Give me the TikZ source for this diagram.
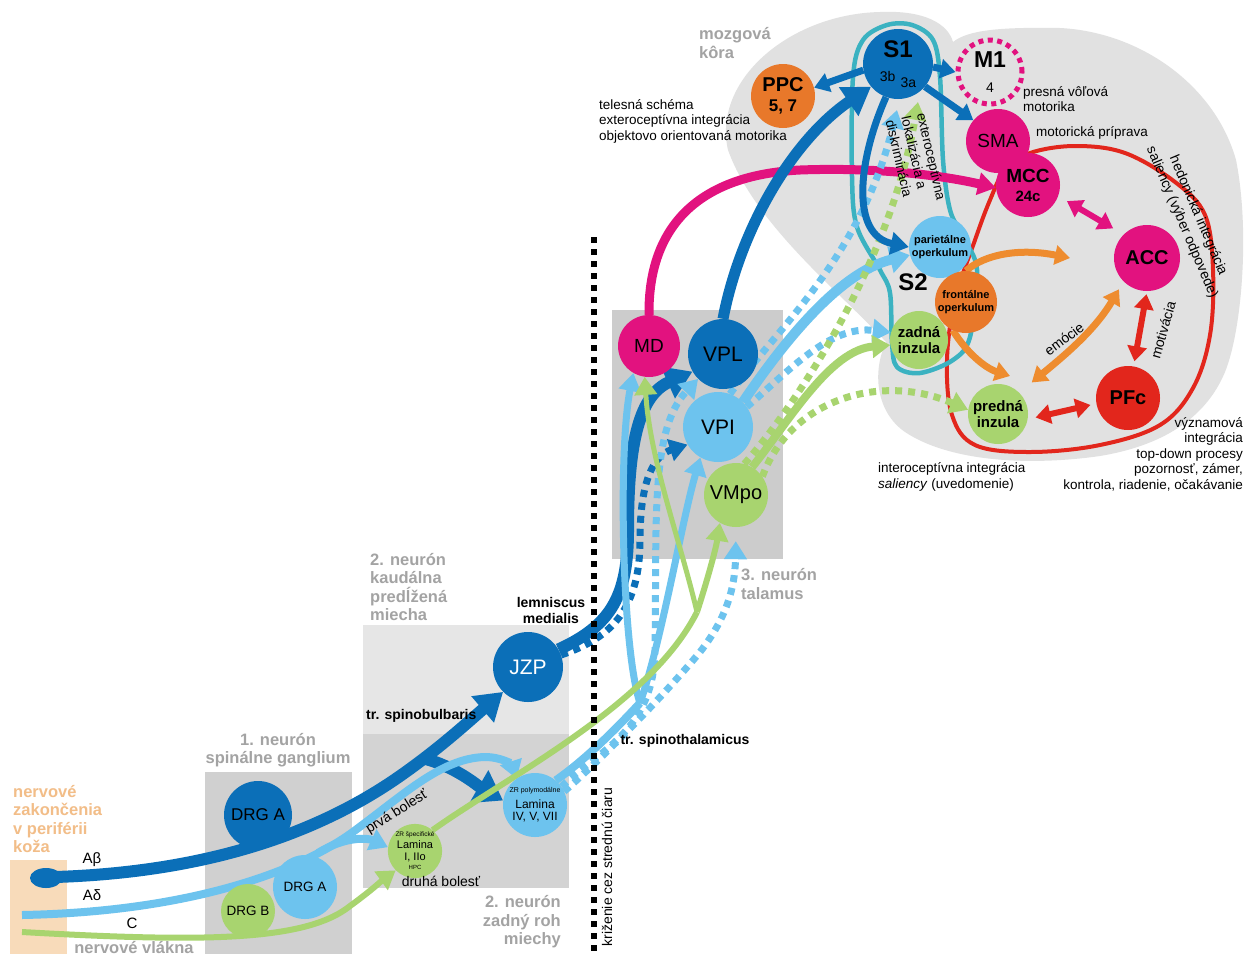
\documentclass[tikz,border=0pt]{standalone}
\usepackage{fontspec}
\setmainfont{Liberation Sans}
\usetikzlibrary{arrows.meta}

\definecolor{dkblue}{HTML}{0B6FB8}
\definecolor{ltblue}{HTML}{6DC3EE}
\definecolor{ltgreen}{HTML}{A8D46F}
\definecolor{magen}{HTML}{E2127F}
\definecolor{orng}{HTML}{E8782A}
\definecolor{orng2}{HTML}{EE8C2F}
\definecolor{redc}{HTML}{E2261C}
\definecolor{tealc}{HTML}{3BB2C1}
\definecolor{braing}{HTML}{E1E1E1}
\definecolor{thalg}{HTML}{CCCCCC}
\definecolor{medlg}{HTML}{E6E6E6}
\definecolor{horng}{HTML}{D3D3D3}
\definecolor{gangg}{HTML}{D0D0D0}
\definecolor{skin}{HTML}{F8DBBA}
\definecolor{skintxt}{HTML}{F2BD88}
\definecolor{gtxt}{HTML}{A3A3A3}

\pgfdeclarelayer{bg}
\pgfdeclarelayer{fibres}
\pgfsetlayers{bg,fibres,main}

\newcommand{\fsz}[2]{\fontsize{#1}{#2}\selectfont}

\tikzset{
  nrn/.style={circle, inner sep=0pt, minimum size=#1pt, align=center},
  desc/.style={inner sep=0pt, font=\fsz{13.5}{15.5}},
  gtitle/.style={inner sep=0pt, text=gtxt, font=\fsz{16.5}{18.5}\bfseries},
  tract/.style={inner sep=0pt, font=\fsz{14}{16}\bfseries},
  sqdots/.style={line width=7pt, dash pattern=on 7pt off 6pt},
  bigtip/.style={-{Triangle[length=27pt,width=33pt]}},
  midtip/.style={-{Triangle[length=18pt,width=22pt]}},
  smltip/.style={-{Triangle[length=15pt,width=19pt]}},
  dbltip/.style={{Triangle[length=15pt,width=19pt]}-{Triangle[length=15pt,width=19pt]}},
}

\begin{document}
\begin{tikzpicture}[x=1pt,y=-1pt]
\useasboundingbox (0,0) rectangle (1244,954);

% boxes, cortex and outlines
\begin{pgfonlayer}{bg}
\fill[white] (0,0) rectangle (1244,954);
\fill[skin] (10,860) rectangle (67,954);
\fill[gangg] (205,772) rectangle (352,954);
\fill[medlg] (363,625) rectangle (569,734);
\fill[horng] (363,734) rectangle (569,888);
\fill[thalg] (612,310) rectangle (783,559);
\fill[braing] (728,150) .. controls (712,80) and (790,14) .. (880,12)
  .. controls (925,10) and (948,24) .. (953,42)
  .. controls (968,30) and (1000,27) .. (1060,28)
  .. controls (1140,32) and (1215,85) .. (1236,160)
  .. controls (1250,230) and (1242,330) .. (1225,372)
  .. controls (1205,420) and (1160,446) .. (1100,456)
  .. controls (1030,466) and (950,462) .. (905,432)
  .. controls (876,412) and (872,372) .. (886,342)
  .. controls (840,292) and (755,225) .. (728,150) -- cycle;
\draw[redc, line width=4pt] plot[smooth cycle, tension=0.6] coordinates {(1005,170) (1030,153) (1075,146) (1125,153) (1175,182) (1205,215) (1213,270) (1210,335) (1193,388) (1160,425) (1100,445) (1030,452) (975,445) (952,415) (947,360) (955,300) (975,240) (990,200)};
\draw[tealc, line width=4.5pt] plot[smooth cycle, tension=0.55] coordinates {(887,25) (863,40) (853,77) (852,177) (857,227) (880,270) (890,293) (892,343) (897,367) (920,373) (953,360) (970,337) (977,270) (963,237) (950,210) (943,160) (940,77) (933,40) (912,25)};
\end{pgfonlayer}

% cortex
\node[nrn=70, fill=dkblue, font=\fsz{14}{16}] (S1) at (898,64) {{\fsz{24}{24}\bfseries S1}\\[8pt]3b\hspace{5pt}\raisebox{-6pt}{3a}};
\node[nrn=64, draw=magen, line width=5pt, dash pattern=on 5pt off 4.5pt, font=\fsz{14}{16}] (M1) at (990,72) {{\fsz{23}{23}\bfseries M1}\\[9pt]4};
\node[nrn=64, fill=orng, font=\fsz{17}{16}\bfseries] (PPC) at (783,96) {{\fsz{20}{20}PPC}\\[4pt]5, 7};
\node[nrn=64, fill=magen, font=\fsz{19}{20}] (SMA) at (998,141) {SMA};
\node[nrn=64, fill=magen, font=\fsz{15}{16}\bfseries] (MCC) at (1028,185) {{\fsz{19}{19}MCC}\\[3pt]24c};
\node[nrn=66, fill=magen, font=\fsz{20}{20}\bfseries] (ACC) at (1147,258) {ACC};
\node[nrn=64, fill=redc, font=\fsz{20}{20}\bfseries] (PFc) at (1128,398) {PFc};
\node[nrn=60, fill=ltgreen, font=\fsz{15}{16}\bfseries] (PredIns) at (998,414) {predná\\inzula};
\node[nrn=58, fill=ltgreen, font=\fsz{15}{16}\bfseries] (ZadIns) at (919,340) {zadná\\inzula};
\node[nrn=62, fill=ltblue, font=\fsz{11}{13}\bfseries] (Par) at (940,247) {parietálne\\operkulum};
\node[nrn=62, fill=orng, font=\fsz{11}{13}\bfseries] (FrOp) at (966,302) {frontálne\\operkulum};

% thalamus, medulla, cord
\node[nrn=62, fill=magen, font=\fsz{19}{20}] (MD) at (649,346) {MD};
\node[nrn=70, fill=dkblue, font=\fsz{21}{22}] (VPL) at (723,354) {VPL};
\node[nrn=70, fill=ltblue, font=\fsz{21}{22}] (VPI) at (718,427) {VPI};
\node[nrn=64, fill=ltgreen, font=\fsz{20}{22}] (VMpo) at (736,495) {VMpo};
\node[nrn=70, fill=dkblue, text=white, font=\fsz{21}{22}] (JZP) at (528,667) {JZP};
\node[nrn=68, fill=dkblue, font=\fsz{17}{18}] (DRGAd) at (258,815) {DRG A};
\node[nrn=64, fill=ltblue, font=\fsz{13.5}{15}] (DRGAl) at (305,887) {DRG A};
\node[nrn=54, fill=ltgreen, font=\fsz{13.5}{15}] (DRGB) at (248,911) {DRG B};
\node[nrn=54, fill=ltgreen, font=\fsz{11}{12}] (LamI) at (415,851) {{\fsz{6.5}{7}ZR špecifické}\\Lamina\\I, IIo\\[-3pt]{\fsz{6}{7}HPC}};
\node[nrn=64, fill=ltblue, font=\fsz{12}{13}] (LamIV) at (535,805) {{\fsz{7}{8}ZR polymodálne}\\[3pt]Lamina\\[-1pt]IV, V, VII};

\begin{pgfonlayer}{fibres}
% periphery to cord and medulla
\coordinate (ab0) at (55,877);
\coordinate (ad0) at (22,915);
\coordinate (c0) at (22,932);
\coordinate (absplit) at (422,758);
\coordinate (adsplit) at (318,853);
\fill[dkblue] (46,878) ellipse [x radius=16pt, y radius=10pt];
\draw[dkblue, line width=12pt, bigtip] (ab0) .. controls (210,872) and (320,832) .. (400,776) .. controls (440,748) and (468,722) .. (JZP.225);
\draw[dkblue, line width=12pt, -{Triangle[length=28pt,width=36pt]}] (absplit) .. controls (455,766) and (478,786) .. (LamIV.172);
\draw[ltblue, line width=8pt, midtip] (ad0) .. controls (180,912) and (290,876) .. (350,834) .. controls (400,798) and (440,758) .. (485,757) .. controls (502,757) and (512,765) .. (LamIV.125);
\draw[ltblue, line width=8pt, midtip] (adsplit) .. controls (345,836) and (368,838) .. (LamI.172);
\draw[ltgreen, line width=6pt, midtip] (c0) .. controls (200,942) and (305,942) .. (350,906) .. controls (372,890) and (385,878) .. (LamI.225);

% to thalamus
\coordinate (stt) at (640,703);
\coordinate (gj) at (697,612);
\draw[dkblue, line width=12pt, bigtip] (JZP.30) .. controls (612,625) and (628,595) .. (628,530) .. controls (628,440) and (640,395) .. (VPL.210);
\draw[dkblue, sqdots, midtip] (JZP.20) .. controls (605,640) and (640,615) .. (640,540) .. controls (640,478) and (655,455) .. (VPI.210);
\draw[ltblue, line width=8pt] (LamIV.50) .. controls (585,760) and (615,730) .. (stt);
\draw[ltblue, line width=7pt, midtip] (stt) .. controls (622,650) and (618,450) .. (MD.240);
\draw[ltblue, line width=7pt, midtip] (stt) .. controls (662,640) and (682,520) .. (VPI.240);
\draw[ltblue, sqdots, midtip] (LamIV.35) .. controls (600,750) and (654,730) .. (655,650) .. controls (657,520) and (650,430) .. (VPL.225);
\draw[ltblue, sqdots, midtip, shorten >=14pt] (LamIV.25) .. controls (600,760) and (660,700) .. (700,652) .. controls (725,620) and (735,590) .. (VMpo.south);
\draw[ltgreen, line width=6pt] (LamI.50) .. controls (510,775) and (650,705) .. (gj);
\draw[ltgreen, line width=6pt, midtip] (gj) .. controls (708,578) and (716,548) .. (VMpo.240);
\draw[ltgreen, line width=5pt, midtip] (gj) .. controls (680,540) and (650,460) .. (MD.262);

% thalamus to cortex
\coordinate (extb) at (897,110);
\coordinate (extg) at (918,102);
\draw[magen, line width=9pt, midtip] (MD.north) .. controls (648,225) and (700,175) .. (800,170) .. controls (880,167) and (945,176) .. (MCC.185);
\draw[dkblue, line width=11pt, bigtip] (VPL.north) .. controls (740,230) and (792,140) .. (S1.220);
\draw[ltblue, line width=10pt, -{Triangle[length=20pt,width=26pt]}] (VPI.north east) .. controls (785,340) and (840,272) .. (Par.195);
\draw[ltblue, sqdots, midtip] (VPI.70) .. controls (775,330) and (860,260) .. (extb);
\draw[ltblue, sqdots, midtip] (VPI.35) .. controls (790,370) and (830,325) .. (ZadIns.165);
\draw[ltgreen, line width=8pt, midtip] (VMpo.60) .. controls (790,420) and (830,350) .. (ZadIns.190);
\draw[ltgreen, sqdots, midtip] (VMpo.75) .. controls (800,400) and (890,262) .. (extg);
\draw[ltgreen, sqdots, midtip] (VMpo.35) .. controls (790,400) and (880,372) .. (PredIns.172);

% within cortex
\coordinate (orTipA) at (1070,258);
\coordinate (orTipB) at (1010,376);
\draw[dkblue, line width=7pt, smltip] (S1.190) -- (PPC.15);
\draw[dkblue, line width=7pt, smltip] (S1.-5) -- (M1.west);
\draw[dkblue, line width=7pt, smltip] (S1.-40) -- (SMA.140);
\draw[dkblue, line width=7pt, midtip] (S1.250) .. controls (858,160) and (850,235) .. (Par.west);
\draw[orng2, line width=7pt, smltip] (FrOp.north) .. controls (985,254) and (1020,248) .. (orTipA);
\draw[orng2, line width=7pt, smltip] (FrOp.245) .. controls (966,352) and (985,368) .. (orTipB);
\draw[orng2, line width=7pt, dbltip, shorten <=16pt, shorten >=9pt] (PredIns.north east) .. controls (1065,355) and (1095,330) .. (ACC.south west);
\draw[magen, line width=6pt, dbltip, shorten <=10pt, shorten >=12pt] (MCC.-20) -- (ACC.135);
\draw[redc, line width=6pt, dbltip, shorten <=3pt, shorten >=5pt] (ACC.south) -- (PFc.80);
\draw[redc, line width=6pt, dbltip, shorten <=8pt, shorten >=6pt] (PredIns.-10) -- (PFc.190);
\end{pgfonlayer}

% midline
\draw[line width=6pt, dash pattern=on 6pt off 6pt] (594,237) -- (594,954);

% labels
\node[gtitle, align=left, anchor=west] (tCortex) at (699,43) {mozgová\\kôra};
\node[desc, align=left, anchor=west] (tPPC) at (599,121) {telesná schéma\\exteroceptívna integrácia\\objektovo orientovaná motorika};
\node[desc, align=left, anchor=west] (tM1) at (1023,99) {presná vôľová\\motorika};
\node[desc, anchor=west] (tSMA) at (1036,133) {motorická príprava};
\node[desc, align=left, anchor=west] (tIns) at (878,477) {interoceptívna integrácia\\\textit{saliency} (uvedomenie)};
\node[desc, align=right, anchor=east] (tPFc) at (1243,454) {významová\\integrácia\\top-down procesy\\pozornosť, zámer,\\kontrola, riadenie, očakávanie};
\node[desc, align=center, rotate=-67, font=\fsz{14}{17.5}] (tHed) at (1190,219) {hedonická integrácia\\saliency (výber odpovede)};
\node[desc, align=left, rotate=-77, font=\fsz{13.5}{16}] (tExt) at (916,160) {exteroceptívna\\lokalizácia a\\diskriminácia};
\node[desc, rotate=37, font=\fsz{14}{16}] (tEmo) at (1064,339) {emócie};
\node[desc, rotate=74, font=\fsz{14}{16}] (tMot) at (1163,330) {motivácia};
\node[inner sep=0pt, font=\fsz{24}{24}\bfseries] (tS2) at (913,282) {S2};
\node[gtitle, align=left, anchor=west] (tThal) at (741,584) {3. neurón\\talamus};
\node[gtitle, align=left, anchor=west] (tMed) at (370,587) {2. neurón\\kaudálna\\predĺžená\\miecha};
\node[tract, align=center] (tLem) at (551,610) {lemniscus\\medialis};
\node[tract, anchor=west] (tSpb) at (366,716) {tr. spinobulbaris};
\node[tract] (tSpt) at (685,741) {tr. spinothalamicus};
\node[gtitle, align=center] (tGang) at (278,750) {1. neurón\\spinálne ganglium};
\node[desc, rotate=32, font=\fsz{14}{16}] (tFirst) at (397,812) {prvá bolesť};
\node[desc, font=\fsz{14}{16}] (tSecond) at (441,881) {druhá bolesť};
\node[gtitle, align=right, anchor=east] (tHorn) at (561,922) {2. neurón\\zadný roh\\miechy};
\node[desc, rotate=90, font=\fsz{14}{16}] (tMid) at (607,867) {križenie cez strednú čiaru};
\node[gtitle, text=skintxt, align=left, anchor=west] (tSkin) at (13,819) {nervové\\zakončenia\\v periférii\\koža};
\node[desc, font=\fsz{15}{16}] (tAb) at (92,860) {Aβ};
\node[desc, font=\fsz{15}{16}] (tAd) at (92,895) {Aδ};
\node[desc, font=\fsz{15}{16}] (tC) at (132,923) {C};
\node[gtitle, anchor=base] (tFib) at (134,953) {nervové vlákna};
\end{tikzpicture}
\end{document}
